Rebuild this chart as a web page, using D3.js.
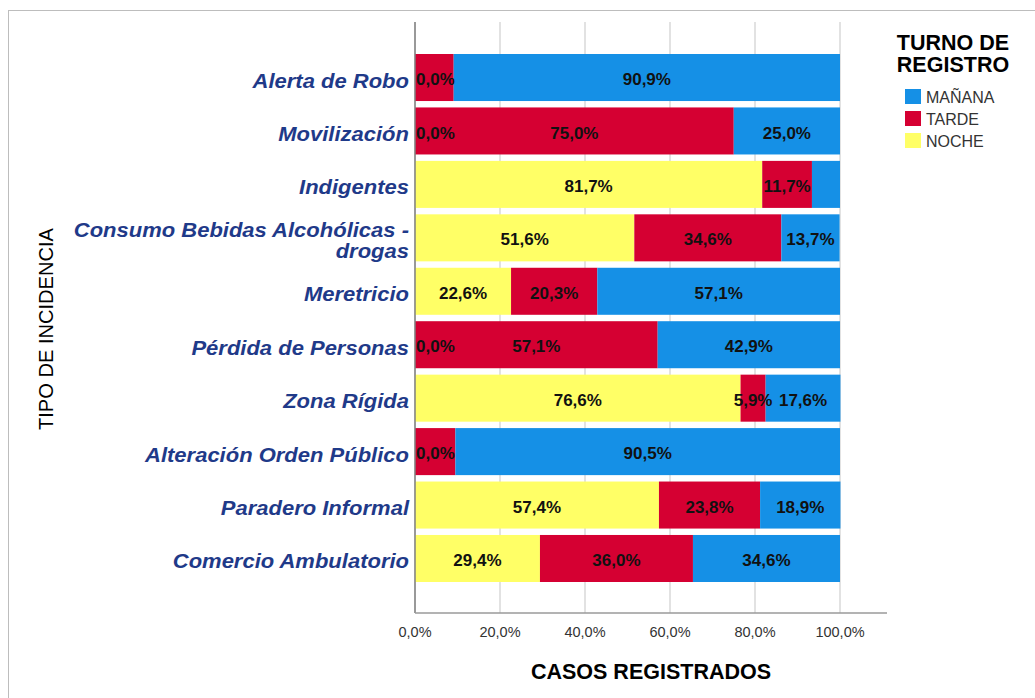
<!DOCTYPE html>
<html>
<head>
<meta charset="utf-8">
<script src="https://cdn.jsdelivr.net/npm/d3@7"></script>
<style>
  body { margin: 0; background: #fff; }
  svg { display: block; font-family: "Liberation Sans", Arial, sans-serif; }
</style>
</head>
<body>
<div id="chart"></div>
<script>
// categories, top to bottom
const categories = [
    "Alerta de Robo",
    "Movilización",
    "Indigentes",
    "Consumo Bebidas Alcohólicas - drogas",
    "Meretricio",
    "Pérdida de Personas",
    "Zona Rígida",
    "Alteración Orden Público",
    "Paradero Informal",
    "Comercio Ambulatorio"
];
// wrapped label lines for long categories
const labelLines = {
    "Consumo Bebidas Alcohólicas - drogas": ["Consumo Bebidas Alcohólicas -", "drogas"]
};

const series = ["NOCHE", "TARDE", "MAÑANA"];      // stacking order, left to right
const legendOrder = ["MAÑANA", "TARDE", "NOCHE"];
const colors = { "MAÑANA": "#1590e6", "TARDE": "#d50032", "NOCHE": "#ffff66" };

// percent values
const noche  = [0.0, 0.0, 81.7, 51.6, 22.6, 0.0, 76.6, 0.0, 57.4, 29.4];
const tarde  = [9.1, 75.0, 11.7, 34.6, 20.3, 57.1, 5.9, 9.5, 23.8, 36.0];
const manana = [90.9, 25.0, 6.6, 13.7, 57.1, 42.9, 17.6, 90.5, 18.9, 34.6];

// segments whose value label is not shown in the original
const hiddenLabels = [
    ["Alerta de Robo", "TARDE"],
    ["Indigentes", "MAÑANA"],
    ["Alteración Orden Público", "TARDE"]
];

const xTicks = [0, 20, 40, 60, 80, 100];

const width = 1035, height = 698;
const plot = { left: 415, right: 840, top: 22, bottom: 613, axisEnd: 887 };

const svg = d3.select("#chart").append("svg")
    .attr("width", width).attr("height", height);

// outer frame
svg.append("rect")
    .attr("x", 8.5).attr("y", 10.5)
    .attr("width", 1100).attr("height", 800)
    .attr("fill", "none").attr("stroke", "#bdbdbd");

const x = d3.scaleLinear().domain([0, 100]).range([plot.left, plot.right]);
const y = d3.scaleBand().domain(categories).range([54, 582]).paddingInner(0.12);

const fmt = v => d3.format(".1f")(v).replace(".", ",") + "%";

// grid lines
svg.append("g").selectAll("line").data(xTicks).join("line")
    .attr("x1", d => x(d)).attr("x2", d => x(d))
    .attr("y1", plot.top).attr("y2", plot.bottom)
    .attr("stroke", "#cfcfcf").attr("stroke-width", 1.2);

// stacked data
const rows = categories.map((c, i) => ({ cat: c, NOCHE: noche[i], TARDE: tarde[i], "MAÑANA": manana[i] }));
const stacked = d3.stack().keys(series)(rows);

const layers = svg.append("g").selectAll("g").data(stacked).join("g")
    .attr("fill", d => colors[d.key]);

layers.selectAll("rect").data(d => d).join("rect")
    .attr("x", d => x(d[0]))
    .attr("y", d => y(d.data.cat))
    .attr("width", d => x(d[1]) - x(d[0]))
    .attr("height", y.bandwidth());

// value labels
const isHidden = (cat, key) => hiddenLabels.some(h => h[0] === cat && h[1] === key);
const labels = [];
stacked.forEach(layer => layer.forEach(d => {
    if (isHidden(d.data.cat, layer.key)) return;
    const v = d[1] - d[0];
    labels.push({ cat: d.data.cat, v, x0: d[0], x1: d[1] });
}));

svg.append("g").selectAll("text").data(labels).join("text")
    .attr("x", d => d.v === 0 ? x(d.x0) + 1 : x((d.x0 + d.x1) / 2))
    .attr("y", d => y(d.cat) + y.bandwidth() / 2)
    .attr("dy", "0.45em")
    .attr("text-anchor", d => d.v === 0 ? "start" : "middle")
    .attr("font-size", 17).attr("font-weight", "bold").attr("fill", "#111")
    .text(d => fmt(d.v));

// axes lines
svg.append("line")
    .attr("x1", plot.left).attr("x2", plot.left)
    .attr("y1", plot.top).attr("y2", plot.bottom)
    .attr("stroke", "#808080").attr("stroke-width", 1.5);
svg.append("line")
    .attr("x1", plot.left).attr("x2", plot.axisEnd)
    .attr("y1", plot.bottom).attr("y2", plot.bottom)
    .attr("stroke", "#9a9a9a").attr("stroke-width", 1.5);

// x tick labels
svg.append("g").selectAll("text").data(xTicks).join("text")
    .attr("x", d => x(d)).attr("y", 637)
    .attr("text-anchor", "middle")
    .attr("font-size", 14.5).attr("fill", "#333")
    .text(d => fmt(d));

// category labels (slightly wide italic)
const catG = svg.append("g").selectAll("g").data(categories).join("g")
    .attr("transform", d => `translate(409,${y(d) + y.bandwidth() / 2}) scale(1.1,1)`);
catG.each(function (d) {
    const lines = labelLines[d] || [d];
    const t = d3.select(this).append("text")
        .attr("text-anchor", "end")
        .attr("font-size", 20).attr("font-weight", "bold").attr("font-style", "italic")
        .attr("fill", "#1f3a89");
    lines.forEach((ln, i) => {
        t.append("tspan").attr("x", 0)
            .attr("y", (i - (lines.length - 1) / 2) * 21)
            .attr("dy", "0.5em")
            .text(ln);
    });
});

// axis titles
svg.append("text")
    .attr("transform", "translate(53,329) rotate(-90)")
    .attr("text-anchor", "middle")
    .attr("font-size", 20).attr("fill", "#000")
    .attr("textLength", 202).attr("lengthAdjust", "spacingAndGlyphs")
    .text("TIPO DE INCIDENCIA");

svg.append("text")
    .attr("x", (plot.left + plot.axisEnd) / 2).attr("y", 679)
    .attr("text-anchor", "middle")
    .attr("font-size", 21.5).attr("font-weight", "bold").attr("fill", "#000")
    .text("CASOS REGISTRADOS");

// legend
const legend = svg.append("g");
legend.append("text")
    .attr("x", 953).attr("y", 50)
    .attr("text-anchor", "middle")
    .attr("font-size", 21.5).attr("font-weight", "bold").attr("fill", "#000")
    .selectAll("tspan").data(["TURNO DE", "REGISTRO"]).join("tspan")
    .attr("x", 953).attr("dy", (d, i) => i === 0 ? 0 : 22)
    .text(d => d);

const items = legend.selectAll("g.item").data(legendOrder).join("g")
    .attr("class", "item")
    .attr("transform", (d, i) => `translate(905,${89 + i * 22})`);
items.append("rect")
    .attr("width", 16).attr("height", 15)
    .attr("fill", d => colors[d]);
items.append("text")
    .attr("x", 21).attr("y", 8).attr("dy", "0.36em")
    .attr("font-size", 16).attr("fill", "#333")
    .text(d => d);
</script>
</body>
</html>
